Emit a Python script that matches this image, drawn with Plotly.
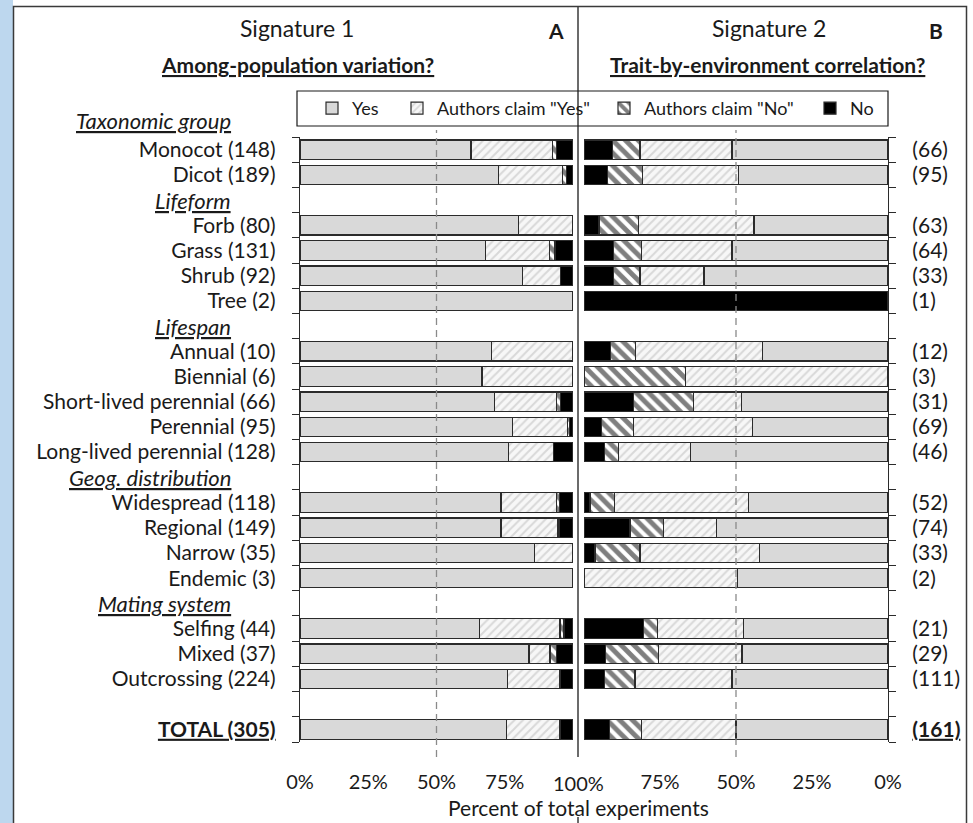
import plotly.graph_objects as go

# ---------------- data ----------------
group_names = ["Taxonomic group", "Lifeform", "Lifespan", "Geog. distribution", "Mating system"]
group_sizes = [2, 4, 5, 4, 3]

categories = ["Monocot", "Dicot",
              "Forb", "Grass", "Shrub", "Tree",
              "Annual", "Biennial", "Short-lived perennial", "Perennial", "Long-lived perennial",
              "Widespread", "Regional", "Narrow", "Endemic",
              "Selfing", "Mixed", "Outcrossing"]
n_sig1 = [148, 189, 80, 131, 92, 2, 10, 6, 66, 95, 128, 118, 149, 35, 3, 44, 37, 224]
n_sig2 = [66, 95, 63, 64, 33, 1, 12, 3, 31, 69, 46, 52, 74, 33, 2, 21, 29, 111]
total_label = "TOTAL"
total_n1 = 305
total_n2 = 161

series_names = ["Yes", 'Authors claim "Yes"', 'Authors claim "No"', "No"]

# Signature 1 (percent): Yes, Authors Yes, Authors No, No
sig1_yes    = [62.6, 72.6, 80.0, 68.0, 81.5, 100, 70.0, 66.7, 71.1, 77.9, 76.4, 73.6, 73.6, 85.8, 100, 65.8, 83.9, 76.0]
sig1_ayes   = [29.8, 23.5, 20.0, 23.4, 14.0, 0, 30.0, 33.3, 22.8, 20.0, 16.4, 20.3, 20.9, 14.2, 0, 29.4, 7.7, 19.2]
sig1_ano    = [1.6, 1.6, 0, 2.0, 0, 0, 0, 0, 1.6, 0.7, 0, 1.1, 0.5, 0, 0, 1.5, 2.4, 0]
sig1_no     = [6.0, 2.3, 0, 6.6, 4.5, 0, 0, 0, 4.5, 1.4, 7.2, 5.0, 5.0, 0, 0, 3.3, 6.0, 4.8]
sig1_total  = [75.5, 19.5, 0.5, 4.5]

# Signature 2 (percent)
sig2_yes    = [51.3, 49.3, 44.1, 51.3, 60.5, 0, 41.4, 0, 48.2, 44.7, 65.0, 46.0, 56.4, 42.2, 49.6, 47.6, 48.0, 51.3]
sig2_ayes   = [30.3, 31.5, 38.1, 29.7, 21.1, 0, 41.6, 66.5, 15.9, 38.9, 23.7, 44.0, 17.5, 39.4, 50.4, 28.2, 27.6, 31.9]
sig2_ano    = [9.1, 11.5, 12.9, 9.4, 8.8, 0, 8.2, 33.5, 19.5, 10.6, 4.6, 8.0, 11.0, 14.8, 0, 4.7, 17.3, 10.1]
sig2_no     = [9.3, 7.7, 4.9, 9.6, 9.6, 100, 8.8, 0, 16.4, 5.8, 6.7, 2.0, 15.1, 3.6, 0, 19.5, 7.1, 6.7]
sig2_total  = [50.0, 31.1, 10.4, 8.5]

# ---------------- layout of rows (slots) ----------------
FONT = "Lato, 'Open Sans', sans-serif"
TXT = "#1a1a1a"

slots_cat = []
header_slots = []
s = 0
for gi, (gname, gsize) in enumerate(zip(group_names, group_sizes)):
    if gi == 0:
        header_slots.append(-1.17)     # first header sits above the axis
    else:
        header_slots.append(s)
        s += 1
    for _ in range(gsize):
        slots_cat.append(s)
        s += 1
s += 1                      # blank row
total_slot = s
n_slots = s + 1

ys = slots_cat + [total_slot]
left_labels = [f"{c} ({n})" for c, n in zip(categories, n_sig1)] + [f"<b><u>{total_label} ({total_n1})</u></b>"]
right_labels = [f"({n})" for n in n_sig2] + [f"<b><u>({total_n2})</u></b>"]

sig1 = [sig1_yes + [sig1_total[0]], sig1_ayes + [sig1_total[1]], sig1_ano + [sig1_total[2]], sig1_no + [sig1_total[3]]]
sig2 = [sig2_yes + [sig2_total[0]], sig2_ayes + [sig2_total[1]], sig2_ano + [sig2_total[2]], sig2_no + [sig2_total[3]]]

def clean(v):
    return [x if x > 0 else None for x in v]

LINE = dict(color="#2b2b2b", width=1.2)
styles = [
    dict(color="#d9d9d9", line=LINE),
    dict(color="white", line=LINE,
         pattern=dict(shape="/", fgcolor="#bababa", bgcolor="#f7f7f7", size=6, solidity=0.35)),
    dict(color="white", line=LINE,
         pattern=dict(shape="\\", fgcolor="black", bgcolor="white", size=9, solidity=0.55)),
    dict(color="black", line=LINE),
]
legend_ids = ["legend", "legend2", "legend3", "legend4"]

fig = go.Figure()
for k in range(4):
    fig.add_trace(go.Bar(x=clean(sig1[k]), y=ys, orientation="h", name=series_names[k],
                         marker=styles[k], xaxis="x", yaxis="y",
                         legend=legend_ids[k], showlegend=True, hoverinfo="skip"))
for k in range(4):
    fig.add_trace(go.Bar(x=clean(sig2[k]), y=ys, orientation="h", name=series_names[k],
                         marker=styles[k], xaxis="x2", yaxis="y2",
                         showlegend=False, hoverinfo="skip"))

# pixel helpers
W, H = 973, 823
PL, PR, PT, PB = 300, 888, 137, 742
def px(x): return (x - PL) / (PR - PL)
def py(y): return (PB - y) / (PB - PT)
def slot_py(sl): return PT + (sl + 0.5) * (PB - PT) / n_slots

bounds = [i - 0.5 for i in range(n_slots + 1)]
yrange = [n_slots - 0.5, -0.5]

common_y = dict(range=yrange, showgrid=False, zeroline=False, showline=True,
                linecolor="#2b2b2b", linewidth=1.3, ticks="", tickmode="array",
                tickfont=dict(family=FONT, size=21, color=TXT),
                minor=dict(tickmode="array", tickvals=bounds, ticks="outside",
                           ticklen=7, tickcolor="#2b2b2b", tickwidth=1.3))

xtick = dict(family=FONT, size=20, color=TXT)
fig.update_layout(
    width=W, height=H, autosize=False,
    margin=dict(l=PL, r=W - PR, t=PT, b=H - PB, pad=0),
    paper_bgcolor="white", plot_bgcolor="white",
    barmode="stack", bargap=0.23,
    font=dict(family=FONT, color=TXT),
    xaxis=dict(domain=[0, px(573)], anchor="y", range=[0, 100], showgrid=False, zeroline=False,
               showline=False, ticks="", tickmode="array", tickvals=[0, 25, 50, 75],
               ticktext=["0%", "25%", "50%", "75%"], ticklabelstandoff=26, tickfont=xtick),
    xaxis2=dict(domain=[px(584), 1], anchor="y2", range=[100, 0], showgrid=False, zeroline=False,
                showline=False, ticks="", tickmode="array", tickvals=[0, 25, 50, 75],
                ticktext=["0%", "25%", "50%", "75%"], ticklabelstandoff=26, tickfont=xtick),
    yaxis=dict(anchor="x", side="left", tickvals=ys, ticktext=left_labels,
               ticklabelstandoff=19, **common_y),
    yaxis2=dict(anchor="x2", side="right", tickvals=ys, ticktext=right_labels,
                ticklabelstandoff=19, **common_y),
)

# legends (one per entry so each sits at its own place in the box)
leg_x = [312, 397, 604, 810]
for lid, lx in zip(legend_ids, leg_x):
    fig.update_layout({lid: dict(x=px(lx), xanchor="left", y=py(108.5), yanchor="middle",
                                 orientation="h", bgcolor="rgba(0,0,0,0)", borderwidth=0,
                                 font=dict(family=FONT, size=18, color=TXT))})

shapes = []
shapes.append(dict(type="rect", xref="paper", yref="paper", x0=px(0), x1=px(13), y0=py(H + 5), y1=py(-5),
                   fillcolor="#bdd7ee", line=dict(width=0), layer="below"))
shapes.append(dict(type="rect", xref="paper", yref="paper", x0=px(13.5), x1=px(966.5), y0=py(H + 10), y1=py(6.5),
                   line=dict(color="#3a3a3a", width=1.5), fillcolor="rgba(0,0,0,0)"))
shapes.append(dict(type="line", xref="paper", yref="paper", x0=px(578), x1=px(578), y0=py(757), y1=py(6.5),
                   line=dict(color="#3a3a3a", width=1.5)))
shapes.append(dict(type="line", xref="paper", yref="paper", x0=px(578), x1=px(578), y0=py(H + 10), y1=py(817),
                   line=dict(color="#3a3a3a", width=1.5)))
for xr in ["x", "x2"]:
    shapes.append(dict(type="line", xref=xr, yref="paper", x0=50, x1=50, y0=py(757), y1=py(130),
                       line=dict(color="#8a8a8a", width=1.3, dash="7px,5px"), layer="above"))
shapes.append(dict(type="rect", xref="paper", yref="paper", x0=px(297), x1=px(888), y0=py(126), y1=py(91),
                   line=dict(color="#1a1a1a", width=1.2), fillcolor="rgba(0,0,0,0)"))
fig.update_layout(shapes=shapes)

ann = []
def A(text, x, y, size, xanchor="center"):
    ann.append(dict(text=text, x=px(x), y=py(y), xref="paper", yref="paper", showarrow=False,
                    xanchor=xanchor, yanchor="middle", font=dict(family=FONT, size=size, color=TXT)))

A("Signature 1", 297, 28, 23)
A("<b><u>Among-population variation?</u></b>", 297, 64, 21)
A("<b>A</b>", 556, 31, 21)
A("Signature 2", 769, 28, 23)
A("<b><u>Trait-by-environment correlation?</u></b>", 767, 64, 21)
A("<b>B</b>", 936, 31, 21)
A("100%", 578, 783, 20)
A("Percent of total experiments", 578, 807, 21)

for gname, gs in zip(group_names, header_slots):
    A(f"<i><u>{gname}</u></i>", 233, slot_py(gs), 22, xanchor="right")
fig.update_layout(annotations=ann)

fig.write_html("out.html", config={"displayModeBar": False})
